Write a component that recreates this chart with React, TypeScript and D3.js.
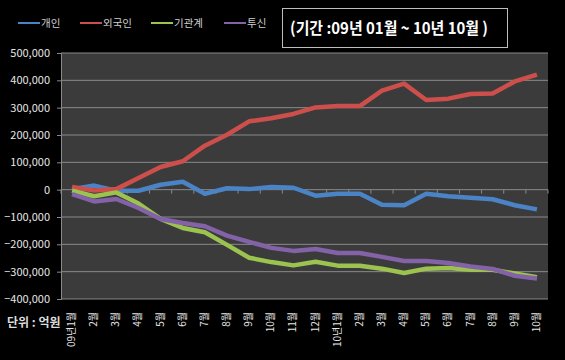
import React, { useEffect, useRef } from 'react';
import * as d3 from 'd3';

const months = [
  '09년1월', '2월', '3월', '4월', '5월', '6월', '7월', '8월', '9월', '10월', '11월', '12월',
  '10년1월', '2월', '3월', '4월', '5월', '6월', '7월', '8월', '9월', '10월'
];

const individual = [2000, 15000, -4000, -4000, 18000, 29000, -15000, 5000, 2000, 10000, 7000, -22000,
  -15000, -15000, -55000, -57000, -15000, -24000, -30000, -35000, -57000, -72000];
const foreign = [10000, -3000, 2000, 43000, 83000, 104000, 161000, 201000, 250000, 261000, 277000, 301000,
  306000, 306000, 362000, 388000, 328000, 333000, 350000, 352000, 396000, 421000];
const institution = [-4000, -24000, -10000, -51000, -107000, -140000, -156000, -202000, -249000, -265000, -277000, -264000,
  -278000, -278000, -289000, -305000, -289000, -287000, -293000, -293000, -307000, -320000];
const trust = [-16000, -43000, -34000, -67000, -107000, -122000, -134000, -168000, -191000, -213000, -224000, -217000,
  -232000, -232000, -246000, -261000, -261000, -268000, -281000, -290000, -315000, -325000];

const seriesNames = ['개인', '외국인', '기관계', '투신'];
const seriesColors = ['#4a84c6', '#cc4f4c', '#9cc350', '#8462a8'];
const yTicks = [-400000, -300000, -200000, -100000, 0, 100000, 200000, 300000, 400000, 500000];

const App: React.FC = () => {
  const svgRef = useRef<SVGSVGElement>(null);

  useEffect(() => {
    if (!svgRef.current) return;
    const width = 565;
    const height = 360;
    const svg = d3.select(svgRef.current);
    svg.selectAll('*').remove();
    svg.attr('width', width).attr('height', height);

    const font = '"Noto Sans CJK KR", "Noto Sans", sans-serif';

    svg.append('rect').attr('width', width).attr('height', height).attr('fill', '#000');

    const plot = { left: 61, right: 548, top: 53, bottom: 299 };

    const x = d3.scaleBand<number>()
      .domain(months.map((_, i) => i))
      .range([plot.left, plot.right]);
    const y = d3.scaleLinear().domain([-400000, 500000]).range([plot.bottom, plot.top]);

    // plot background
    svg.append('rect')
      .attr('x', plot.left).attr('y', plot.top)
      .attr('width', plot.right - plot.left).attr('height', plot.bottom - plot.top)
      .attr('fill', '#3b3b3b');

    // gridlines
    svg.append('g').selectAll('line').data(yTicks.filter(t => t !== 0)).enter().append('line')
      .attr('x1', plot.left).attr('x2', plot.right)
      .attr('y1', d => y(d)).attr('y2', d => y(d))
      .attr('stroke', '#8a8a8a').attr('stroke-width', 1);

    // y axis
    const yAxis = d3.axisLeft(y).tickValues(yTicks).tickSize(4)
      .tickFormat(d => d3.format(',')(d as number));
    const ya = svg.append('g').attr('transform', `translate(${plot.left},0)`).call(yAxis);
    ya.select('.domain').attr('stroke', '#8a8a8a');
    ya.selectAll('line').attr('stroke', '#8a8a8a');
    ya.selectAll('text')
      .attr('fill', '#e6e6e6').attr('x', -11)
      .style('font-family', font).style('font-size', '11px');

    // zero axis with ticks at band boundaries
    const xa = svg.append('g');
    xa.append('line')
      .attr('x1', plot.left).attr('x2', plot.right)
      .attr('y1', y(0)).attr('y2', y(0))
      .attr('stroke', '#8a8a8a');
    const bounds = months.map((_, i) => (x(i) || 0)).concat([plot.right]);
    xa.selectAll('.tk').data(bounds).enter().append('line')
      .attr('x1', d => d).attr('x2', d => d)
      .attr('y1', y(0)).attr('y2', y(0) + 4)
      .attr('stroke', '#8a8a8a');

    // x labels, rotated
    svg.append('g').selectAll('text').data(months).enter().append('text')
      .attr('transform', (_, i) => `translate(${(x(i) || 0) + x.bandwidth() / 2 + 3},${plot.bottom + 13}) rotate(-90)`)
      .attr('text-anchor', 'end')
      .attr('fill', '#e6e6e6')
      .style('font-family', font).style('font-size', '10px')
      .text(d => d);

    // lines
    const allSeries = [individual, foreign, institution, trust];
    const line = d3.line<number>()
      .x((_, i) => (x(i) || 0) + x.bandwidth() / 2)
      .y(d => y(d));
    allSeries.forEach((s, k) => {
      svg.append('path')
        .datum(s)
        .attr('d', line)
        .attr('fill', 'none')
        .attr('stroke', seriesColors[k])
        .attr('stroke-width', 4.5)
        .attr('stroke-linejoin', 'round');
    });

    // legend
    const legendX = [18, 80, 151, 224];
    const legend = svg.append('g');
    seriesNames.forEach((name, k) => {
      legend.append('line')
        .attr('x1', legendX[k]).attr('x2', legendX[k] + 22)
        .attr('y1', 23).attr('y2', 23)
        .attr('stroke', seriesColors[k]).attr('stroke-width', 2);
      legend.append('text')
        .attr('x', legendX[k] + 23).attr('y', 27)
        .attr('fill', '#cfcfcf')
        .style('font-family', font).style('font-size', '10.5px')
        .text(name);
    });

    // period box
    svg.append('rect')
      .attr('x', 282.5).attr('y', 8.5).attr('width', 225).attr('height', 39)
      .attr('fill', '#000').attr('stroke', '#bdbdbd').attr('stroke-width', 1);
    svg.append('text')
      .attr('x', 290).attr('y', 34)
      .attr('fill', '#ffffff')
      .attr('textLength', 198).attr('lengthAdjust', 'spacingAndGlyphs')
      .style('font-family', font).style('font-size', '16px').style('font-weight', 'bold')
      .text('(기간 :09년 01월 ~ 10년 10월 )');

    // unit
    svg.append('text')
      .attr('x', 7).attr('y', 327)
      .attr('fill', '#dcdcdc')
      .style('font-family', font).style('font-size', '12px').style('font-weight', 'bold')
      .text('단위 : 억원');
  }, []);

  return (
    <div style={{ position: 'absolute', left: 0, top: 0 }}>
      <svg ref={svgRef} style={{ display: 'block' }}></svg>
    </div>
  );
};

export default App;
